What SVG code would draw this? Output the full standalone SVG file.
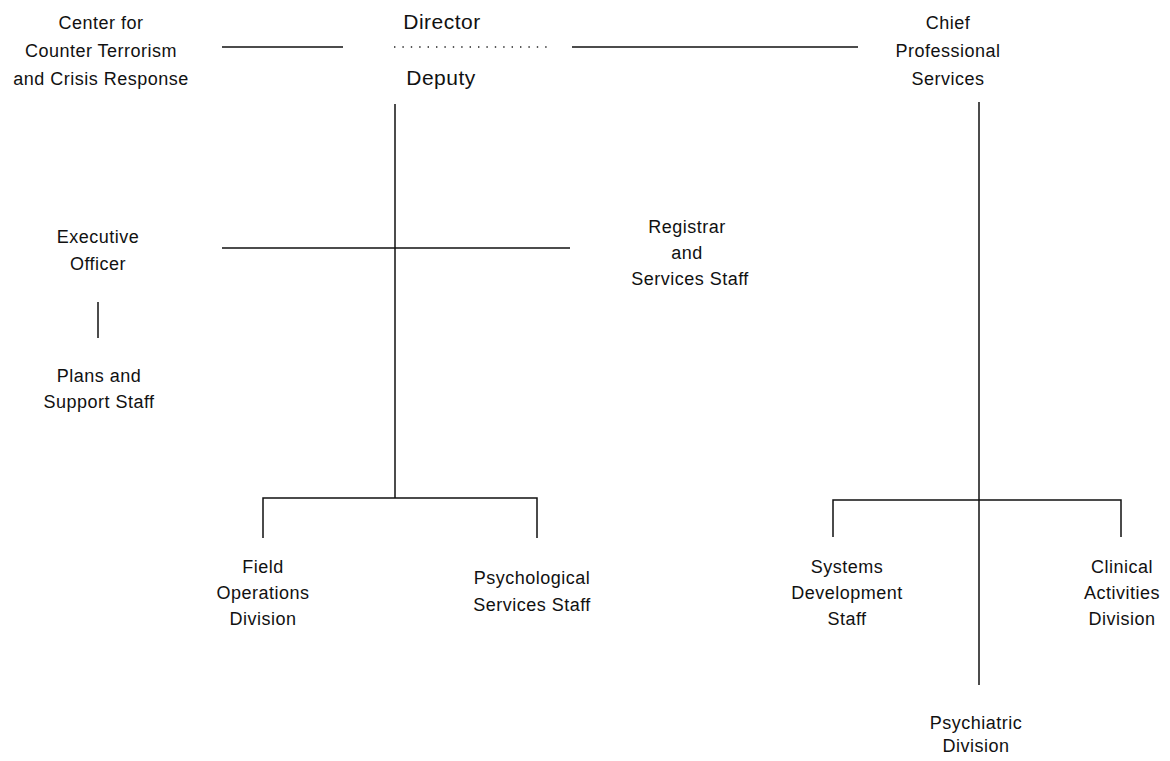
<svg xmlns="http://www.w3.org/2000/svg" width="1170" height="761" viewBox="0 0 1170 761">
<style>
text{font-family:"Liberation Sans",Arial,sans-serif;font-size:18px;fill:#111;text-anchor:middle;letter-spacing:0.5px}
.big{font-size:21px}
.ln{stroke:#111;stroke-width:1.5;fill:none}
.dot{stroke:#222;stroke-width:1.4;stroke-dasharray:1.4 7;fill:none}
</style>
<rect width="1170" height="761" fill="#fff"/>
<g id="connectors">
<line class="ln" x1="222" y1="47" x2="343" y2="47"/>
<line class="dot" x1="394" y1="47" x2="550" y2="47"/>
<line class="ln" x1="572" y1="47" x2="858" y2="47"/>
<line class="ln" x1="395" y1="104" x2="395" y2="498"/>
<line class="ln" x1="222" y1="248" x2="570" y2="248"/>
<line class="ln" x1="98" y1="302" x2="98" y2="338"/>
<polyline class="ln" points="263,538 263,498 537,498 537,538"/>
<line class="ln" x1="979" y1="102" x2="979" y2="685"/>
<polyline class="ln" points="833,537 833,500 1121,500 1121,537"/>
</g>
<g id="ccr"><text x="101" y="29">Center for</text><text x="101" y="57">Counter Terrorism</text><text x="101" y="85">and Crisis Response</text></g>
<g id="director"><text class="big" x="442" y="29">Director</text></g>
<g id="deputy"><text class="big" x="441" y="85">Deputy</text></g>
<g id="chief"><text x="948" y="29">Chief</text><text x="948" y="57">Professional</text><text x="948" y="85">Services</text></g>
<g id="exec"><text x="98" y="243">Executive</text><text x="98" y="270">Officer</text></g>
<g id="plans"><text x="99" y="382">Plans and</text><text x="99" y="408">Support Staff</text></g>
<g id="registrar"><text x="687" y="233">Registrar</text><text x="687" y="259">and</text><text x="690" y="285">Services Staff</text></g>
<g id="field"><text x="263" y="573">Field</text><text x="263" y="599">Operations</text><text x="263" y="625">Division</text></g>
<g id="psych"><text x="532" y="584">Psychological</text><text x="532" y="611">Services Staff</text></g>
<g id="systems"><text x="847" y="573">Systems</text><text x="847" y="599">Development</text><text x="847" y="625">Staff</text></g>
<g id="clinical"><text x="1122" y="573">Clinical</text><text x="1122" y="599">Activities</text><text x="1122" y="625">Division</text></g>
<g id="psychiatric"><text x="976" y="729">Psychiatric</text><text x="976" y="752">Division</text></g>
</svg>
